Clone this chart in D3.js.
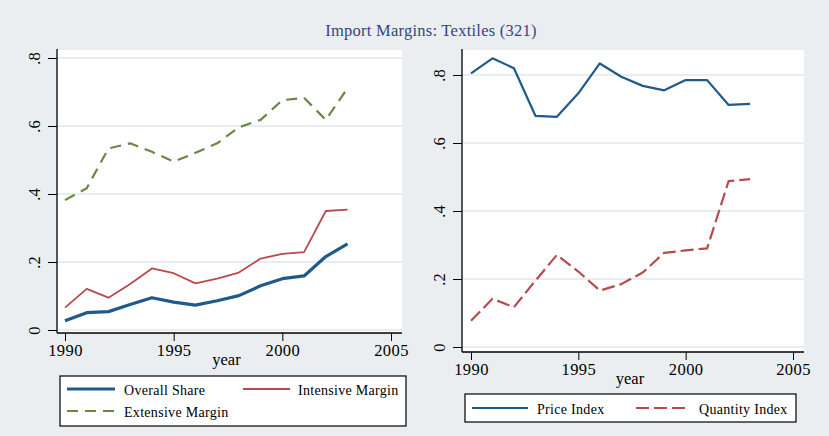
<!DOCTYPE html>
<html>
<head>
<meta charset="utf-8">
<script src="https://cdn.jsdelivr.net/npm/d3@7"></script>
<style>
  body { margin: 0; background: #eaeef0; }
  svg { display: block; font-family: "Liberation Serif", "DejaVu Serif", serif; }
</style>
</head>
<body>
<svg id="chart" width="829" height="436"></svg>
<script>
const years = [1990, 1991, 1992, 1993, 1994, 1995, 1996, 1997, 1998, 1999, 2000, 2001, 2002, 2003];
const overallShare = [0.027, 0.051, 0.054, 0.075, 0.095, 0.082, 0.073, 0.086, 0.101, 0.130, 0.151, 0.159, 0.216, 0.253];
const intensiveMargin = [0.066, 0.121, 0.095, 0.135, 0.181, 0.167, 0.137, 0.151, 0.169, 0.210, 0.224, 0.229, 0.350, 0.354];
const extensiveMargin = [0.382, 0.417, 0.534, 0.549, 0.524, 0.495, 0.521, 0.549, 0.596, 0.618, 0.676, 0.683, 0.618, 0.711];
const priceIndex = [0.805, 0.849, 0.820, 0.680, 0.677, 0.746, 0.834, 0.795, 0.768, 0.755, 0.785, 0.785, 0.712, 0.715];
const quantityIndex = [0.077, 0.142, 0.117, 0.195, 0.271, 0.222, 0.166, 0.185, 0.219, 0.277, 0.284, 0.290, 0.488, 0.494];
const xTicks = [1990, 1995, 2000, 2005];
const yTicks = [0, 0.2, 0.4, 0.6, 0.8];
const yTickLabels = ["0", ".2", ".4", ".6", ".8"];

const svg = d3.select("#chart");
const bg = "#eaeef0";
const grid = "#e8eef0";

svg.append("rect").attr("width", 829).attr("height", 436).attr("fill", bg);

svg.append("text")
  .attr("x", 431).attr("y", 36)
  .attr("text-anchor", "middle")
  .attr("font-size", 16.5)
  .attr("letter-spacing", 0.25)
  .attr("fill", "#37457a")
  .text("Import Margins: Textiles (321)");

function drawPanel(opts) {
  const x = d3.scaleLinear().domain([1990, 2005]).range([opts.x0, opts.x1]);
  const y = d3.scaleLinear().domain([0, 0.8]).range([opts.y0, opts.y8]);
  const g = svg.append("g");

  g.append("rect")
    .attr("x", opts.left).attr("y", opts.top)
    .attr("width", opts.right - opts.left).attr("height", opts.bottom - opts.top)
    .attr("fill", "#fff");

  // gridlines
  g.selectAll("line.grid").data(yTicks).enter().append("line")
    .attr("class", "grid")
    .attr("x1", opts.left).attr("x2", opts.right)
    .attr("y1", (d) => y(d)).attr("y2", (d) => y(d))
    .attr("stroke", grid).attr("stroke-width", 2);

  // y axis
  const yAxis = g.append("g")
    .attr("transform", "translate(" + opts.left + ",0)")
    .call(d3.axisLeft(y).tickValues(yTicks).tickSize(9).tickFormat((d, i) => yTickLabels[i]));
  yAxis.select(".domain").attr("d", "M0," + (opts.top - 1) + "V" + opts.axisY);
  yAxis.selectAll(".tick line").attr("stroke", "#000");
  yAxis.selectAll(".tick text")
    .attr("x", 0).attr("y", 0).attr("dy", 0)
    .attr("transform", "translate(-17.5,0) rotate(-90)")
    .attr("text-anchor", "middle")
    .attr("font-family", "Liberation Serif, serif")
    .attr("font-size", 16.5).attr("fill", "#000");

  // x axis
  const xAxis = g.append("g")
    .attr("transform", "translate(0," + opts.axisY + ")")
    .call(d3.axisBottom(x).tickValues(xTicks).tickSize(8).tickFormat(d3.format("d")));
  xAxis.select(".domain").attr("d", "M" + opts.left + ",0H" + opts.right);
  xAxis.selectAll(".tick text")
    .attr("y", 11)
    .attr("font-family", "Liberation Serif, serif")
    .attr("letter-spacing", 0.4)
    .attr("font-size", 16.5).attr("fill", "#000");
  g.selectAll(".domain").attr("stroke", "#000").attr("stroke-width", 1.3);

  g.append("text")
    .attr("x", (opts.left + opts.right) / 2 - 3).attr("y", opts.axisY + 32)
    .attr("text-anchor", "middle").attr("font-size", 16.5)
    .text("year");

  const line = (vals) => d3.line()
    .x((d, i) => x(years[i]))
    .y((d) => y(d))(vals);

  opts.series.forEach((s) => {
    g.append("path")
      .attr("d", line(s.values))
      .attr("fill", "none")
      .attr("stroke", s.color)
      .attr("stroke-width", s.width)
      .attr("stroke-dasharray", s.dash || null)
      .attr("stroke-linejoin", "round");
  });

  // legend
  const L = opts.legend;
  g.append("rect")
    .attr("x", L.x).attr("y", L.y).attr("width", L.w).attr("height", L.h)
    .attr("fill", "#fff").attr("stroke", "#000").attr("stroke-width", 1.2);
  opts.series.forEach((s, i) => {
    const p = L.items[i];
    g.append("line")
      .attr("x1", p[0]).attr("x2", p[0] + p[2]).attr("y1", p[1]).attr("y2", p[1])
      .attr("stroke", s.color).attr("stroke-width", s.width)
      .attr("stroke-dasharray", s.dash || null);
    g.append("text")
      .attr("x", p[3]).attr("y", p[1] + 5.5)
      .attr("font-size", 14)
      .attr("letter-spacing", 0.3)
      .text(s.name);
  });
}

drawPanel({
  left: 57, right: 402, top: 50, bottom: 333, axisY: 333,
  x0: 65, x1: 391, y0: 330, y8: 58,
  series: [
    { name: "Overall Share", values: overallShare, color: "#1f5a8c", width: 3.2 },
    { name: "Intensive Margin", values: intensiveMargin, color: "#b84a4d", width: 1.8 },
    { name: "Extensive Margin", values: extensiveMargin, color: "#6a8748", width: 2.2, dash: "11,7" }
  ],
  legend: {
    x: 60, y: 376, w: 346, h: 50,
    items: [[67, 389, 48, 124], [243, 389, 47, 298], [67, 411, 48, 124]]
  }
});

drawPanel({
  left: 462, right: 804, top: 50, bottom: 352, axisY: 352,
  x0: 471, x1: 793, y0: 347, y8: 75,
  series: [
    { name: "Price Index", values: priceIndex, color: "#1f5a8c", width: 2.2 },
    { name: "Quantity Index", values: quantityIndex, color: "#b84a4d", width: 2.2, dash: "13,5" }
  ],
  legend: {
    x: 465, y: 394, w: 331, h: 28,
    items: [[472, 408, 56, 537], [636, 408, 49, 699]]
  }
});
</script>
</body>
</html>
